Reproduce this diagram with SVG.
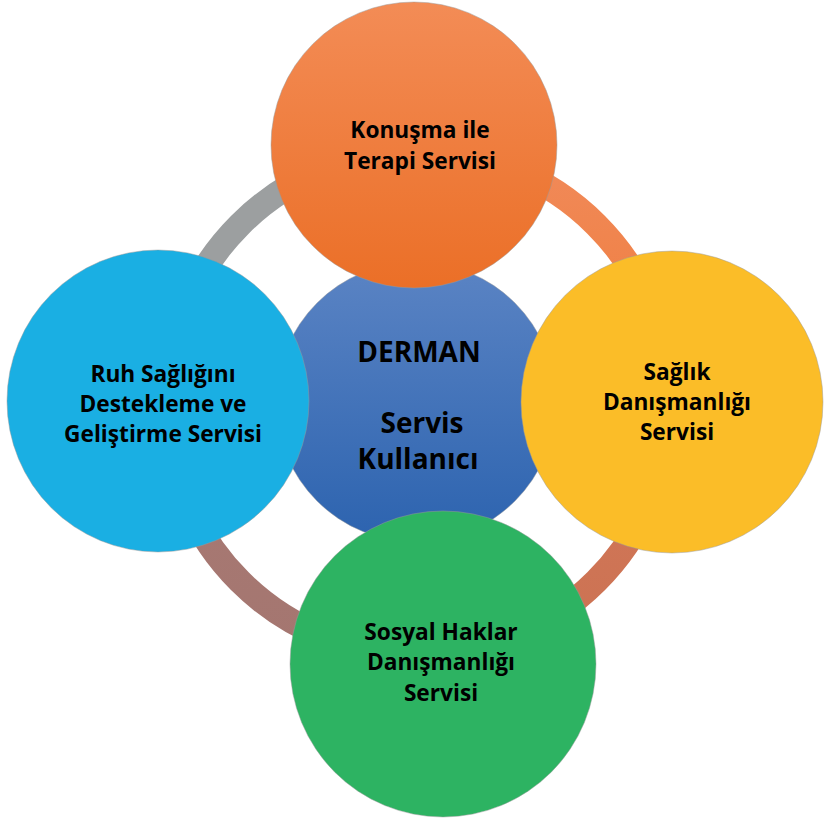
<svg xmlns="http://www.w3.org/2000/svg" width="825" height="822" viewBox="0 0 825 822">
  <defs>
    <linearGradient id="gOrange" x1="0" y1="0" x2="0" y2="1">
      <stop offset="0" stop-color="#F38C56"/>
      <stop offset="1" stop-color="#EB6F27"/>
    </linearGradient>
    <linearGradient id="gCenter" x1="0" y1="0" x2="0" y2="1">
      <stop offset="0" stop-color="#5B84C4"/>
      <stop offset="1" stop-color="#2C63AF"/>
    </linearGradient>
    <linearGradient id="gArcTR" x1="0" y1="0" x2="0" y2="1">
      <stop offset="0" stop-color="#F18A5A"/>
      <stop offset="1" stop-color="#EE7B38"/>
    </linearGradient>
    <linearGradient id="gArcBR" x1="0" y1="0" x2="0" y2="1">
      <stop offset="0" stop-color="#D4785A"/>
      <stop offset="1" stop-color="#CB7252"/>
    </linearGradient>
    <linearGradient id="gArcBL" x1="0" y1="0" x2="0" y2="1">
      <stop offset="0" stop-color="#A97A74"/>
      <stop offset="1" stop-color="#A47670"/>
    </linearGradient>
  </defs>
  <style>
    .ring { fill: none; stroke-width: 25; }
    .node { stroke: #9a9a9a; stroke-width: 0.8; stroke-opacity: 0.6; }
    .lbl { font-family: "Open Sans", "Liberation Sans", sans-serif; font-weight: 700; font-size: 22.7px; fill: #000; text-anchor: middle; }
    .big { font-size: 28px; }
  </style>

  <rect width="825" height="822" fill="#ffffff"/>

  <!-- ring behind the nodes, one arc per quadrant -->
  <g id="connectors">
    <path class="ring" stroke="#9C9FA0" d="M 166 403 A 252 252 0 0 1 418 151"/>
    <path class="ring" stroke="url(#gArcTR)" d="M 418 151 A 252 252 0 0 1 670 403"/>
    <path class="ring" stroke="url(#gArcBR)" d="M 670 403 A 252 252 0 0 1 418 655"/>
    <path class="ring" stroke="url(#gArcBL)" d="M 418 655 A 252 252 0 0 1 166 403"/>
  </g>

  <g id="center">
    <circle class="node" cx="416" cy="402" r="140" fill="url(#gCenter)"/>
    <text class="lbl big" x="419" y="362">DERMAN</text>
    <text class="lbl big" x="422" y="433">Servis</text>
    <text class="lbl big" x="418" y="469">Kullanıcı</text>
  </g>

  <g id="top">
    <circle class="node" cx="414" cy="145" r="143" fill="url(#gOrange)"/>
    <text class="lbl" x="420" y="138">Konuşma ile</text>
    <text class="lbl" x="420" y="169">Terapi Servisi</text>
  </g>

  <g id="right">
    <circle class="node" cx="672" cy="402" r="151" fill="#FBBD28"/>
    <text class="lbl" x="677" y="380">Sağlık</text>
    <text class="lbl" x="677" y="410">Danışmanlığı</text>
    <text class="lbl" x="677" y="440">Servisi</text>
  </g>

  <g id="bottom">
    <circle class="node" cx="443" cy="664" r="153" fill="#2DB362"/>
    <text class="lbl" x="441" y="640">Sosyal Haklar</text>
    <text class="lbl" x="441" y="670">Danışmanlığı</text>
    <text class="lbl" x="441" y="701">Servisi</text>
  </g>

  <g id="left">
    <circle class="node" cx="158" cy="401" r="151" fill="#1AAFE3"/>
    <text class="lbl" x="163" y="382">Ruh Sağlığını</text>
    <text class="lbl" x="163" y="412">Destekleme ve</text>
    <text class="lbl" x="163" y="442">Geliştirme Servisi</text>
  </g>
</svg>
